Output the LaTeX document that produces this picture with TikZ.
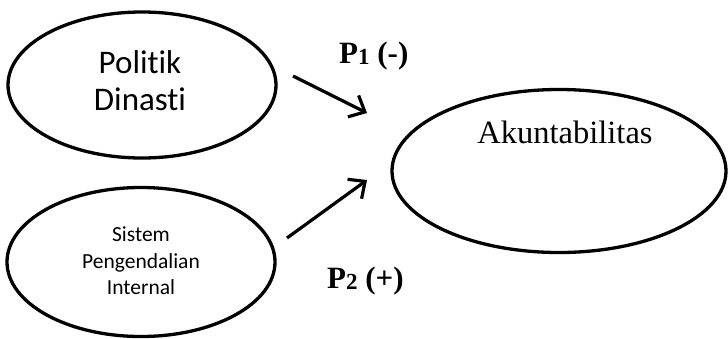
\documentclass[tikz,border=0pt]{standalone}
\usepackage{fontspec}
\setmainfont{Liberation Serif}
\newfontfamily\calibri[Ligatures={NoCommon,NoRequired,NoContextual}]{Carlito}
\usetikzlibrary{shapes.geometric,arrows.meta}
\begin{document}
\begin{tikzpicture}[x=1pt,y=-1pt,
  oval/.style={draw,line width=3.3pt,ellipse,inner sep=0pt},
  conn/.style={line width=3.2pt,-{Straight Barb[length=13pt,width=24pt,line width=3.2pt]}},
  plabel/.style={font=\fontsize{31}{31}\selectfont\bfseries,inner sep=0pt,anchor=base west}]
\useasboundingbox (0,0) rectangle (728,338);
\node[oval,minimum width=268pt,minimum height=146pt] (pd) at (142,85) {};
\node[font=\calibri\fontsize{33}{37}\selectfont,align=center] (pdt) at (140,81) {Politik\\Dinasti};
\node[oval,minimum width=268pt,minimum height=149pt] (spi) at (141,262) {};
\node[font=\calibri\fontsize{21.5}{26.5}\selectfont,align=center] (spit) at (141,261) {Sistem\\Pengendalian\\Internal};
\node[oval,minimum width=334pt,minimum height=163pt] (ak) at (559,171) {};
\node[font=\fontsize{32.5}{33}\selectfont,inner sep=0pt,anchor=base] (akt) at (565,143) {Akuntabilitas};
\coordinate (a1s) at (293,76);
\coordinate (a1e) at (367,113);
\coordinate (a2s) at (287,238);
\coordinate (a2e) at (367,180);
\draw[conn] (a1s) -- (a1e);
\draw[conn] (a2s) -- (a2e);
\node[plabel] (p1) at (339,63) {P\raisebox{-1.5pt}{\fontsize{23}{23}\selectfont 1} (-)};
\node[plabel] (p2) at (327,288) {P\raisebox{-1.5pt}{\fontsize{23}{23}\selectfont 2} (+)};
\end{tikzpicture}
\end{document}
